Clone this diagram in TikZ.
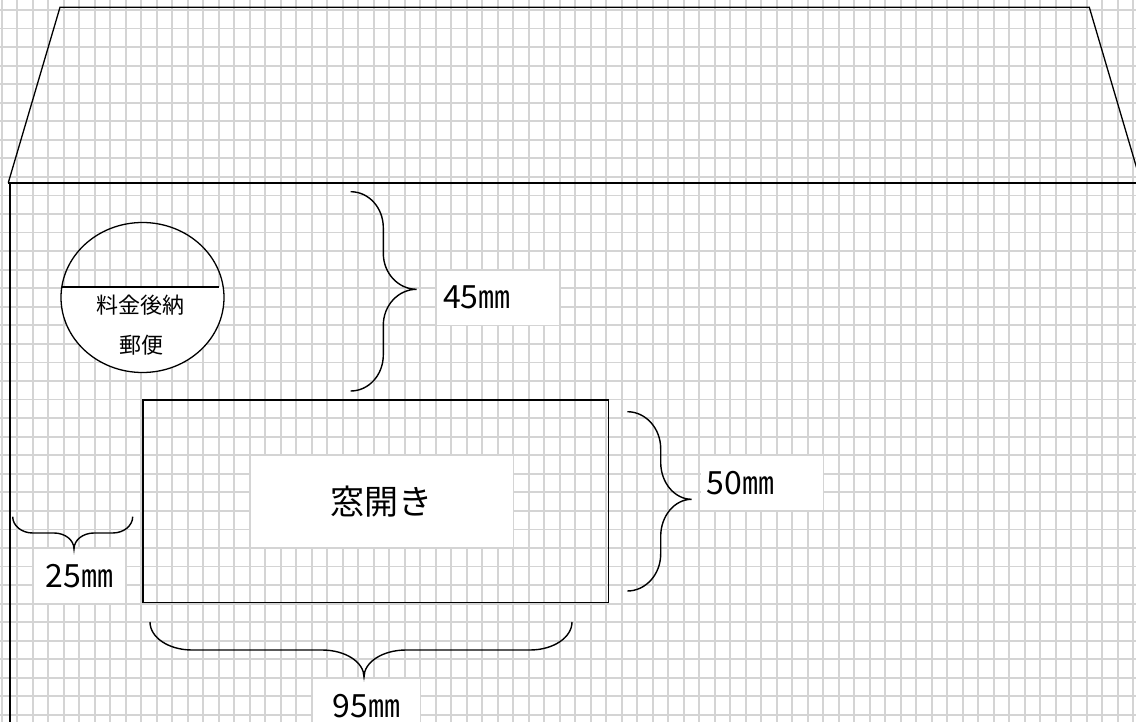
\documentclass[tikz,border=0pt]{standalone}
\usepackage{fontspec}
\setmainfont{Noto Sans CJK JP}
\usepackage{tikz}
\usetikzlibrary{shapes.geometric, positioning, calc}
\tikzstyle{gridline} = [draw=black!17, line width=1.8pt]
\tikzstyle{outline} = [draw=black, line width=1.3pt]
\tikzstyle{bracket} = [draw=black, line width=1.4pt]
\tikzstyle{labelbox} = [rectangle, fill=white, inner sep=0pt, anchor=north west, minimum height=53.65pt, text centered, font=\fontsize{32}{36}\selectfont]
\tikzstyle{stamptext} = [inner sep=0pt, font=\fontsize{22}{26}\selectfont]

\begin{document}
\begin{tikzpicture}[x=1pt, y=-1pt]
    \useasboundingbox (0,0) rectangle (1136,722);
    \clip (0,0) rectangle (1136,722);
    % squared paper
    \foreach \k in {0,...,73}
        \draw [gridline] ({1.8+15.5*\k},0) -- ({1.8+15.5*\k},722);
    \foreach \k in {0,...,38}
        \draw [gridline] (0,{10+18.55*\k}) -- (1136,{10+18.55*\k});

    % envelope flap and body
    \draw [outline] (8.3,182.7) -- (60,7.3) -- (1089.3,7.3) -- (1141,182.7);
    \draw [draw=black, line width=2.4pt] (8,183) -- (1140,183);
    \draw [outline] (10,183) -- (10,722);

    % postage stamp
    \node (stamp) [ellipse, inner sep=0pt, minimum width=163pt, minimum height=150pt] at (142.5,297.5) {};
    \begin{scope}
        \clip (stamp.center) ellipse [x radius=81.5pt, y radius=75pt];
        \fill [white] (50,287.3) rectangle (240,380);
    \end{scope}
    \draw [outline] (stamp.center) ellipse [x radius=81.5pt, y radius=75pt];
    \draw [draw=black, line width=1.7pt] (62.3,287.3) -- (219,287.3);
    \node (fee) [stamptext] at (140,305.5) {料金後納};
    \node (post) [stamptext] at (141,345) {郵便};

    % window
    \node (window) [outline, rectangle, inner sep=0pt, anchor=north west, minimum width=465.7pt, minimum height=202.2pt] at (142.3,399.3) {};
    \node (winlabel) [labelbox, minimum width=261.5pt, minimum height=90.75pt, font=\fontsize{34}{38}\selectfont] at (250.8,456.2) {窓開き};

    % dimension labels
    \node (label45) [labelbox, minimum width=122pt, text width=110pt, align=left, inner xsep=6pt] at (436.8,270.7) {45㎜};
    \node (label50) [labelbox, minimum width=122pt, text width=110pt, align=left, inner xsep=6pt] at (700.3,456.2) {50㎜};
    \node (label25) [labelbox, minimum width=91pt] at (33.8,549) {25㎜};
    \node (label95) [labelbox, minimum width=106.5pt] at (312.8,678.8) {95㎜};

    % braces
    \draw [bracket] (350.7,191.7) .. controls (368.7,191.7) and (383.3,207.7) .. (383.3,227.7) -- (383.3,253.3)
        .. controls (383.3,273.3) and (398.3,289.3) .. (416.7,289.3)
        .. controls (398.3,289.3) and (383.3,305.3) .. (383.3,325.3) -- (383.3,355)
        .. controls (383.3,375) and (368.7,391) .. (350.7,391);
    \draw [bracket] (627.3,411.7) .. controls (645.7,411.7) and (660.7,428.3) .. (660.7,448.7) -- (660.7,462.3)
        .. controls (660.7,482.7) and (674.6,499.3) .. (691.7,499.3)
        .. controls (674.6,499.3) and (660.7,515.9) .. (660.7,536.3) -- (660.7,554)
        .. controls (660.7,574.4) and (645.7,591) .. (627.3,591);
    \draw [bracket] (12.7,516.7) .. controls (12.7,525.7) and (21.7,533) .. (32.7,533) -- (54,533)
        .. controls (65,533) and (74,540) .. (74,549)
        .. controls (74,540) and (83,533) .. (94,533) -- (112.7,533)
        .. controls (123.7,533) and (132.7,525.7) .. (132.7,516.7);
    \draw [bracket] (150,622) .. controls (150,637.5) and (168.8,650) .. (192,650) -- (322,650)
        .. controls (345.2,650) and (364,662) .. (364,677)
        .. controls (364,662) and (382.8,650) .. (406,650) -- (530,650)
        .. controls (553.2,650) and (572,637.5) .. (572,622);
\end{tikzpicture}
\end{document}
